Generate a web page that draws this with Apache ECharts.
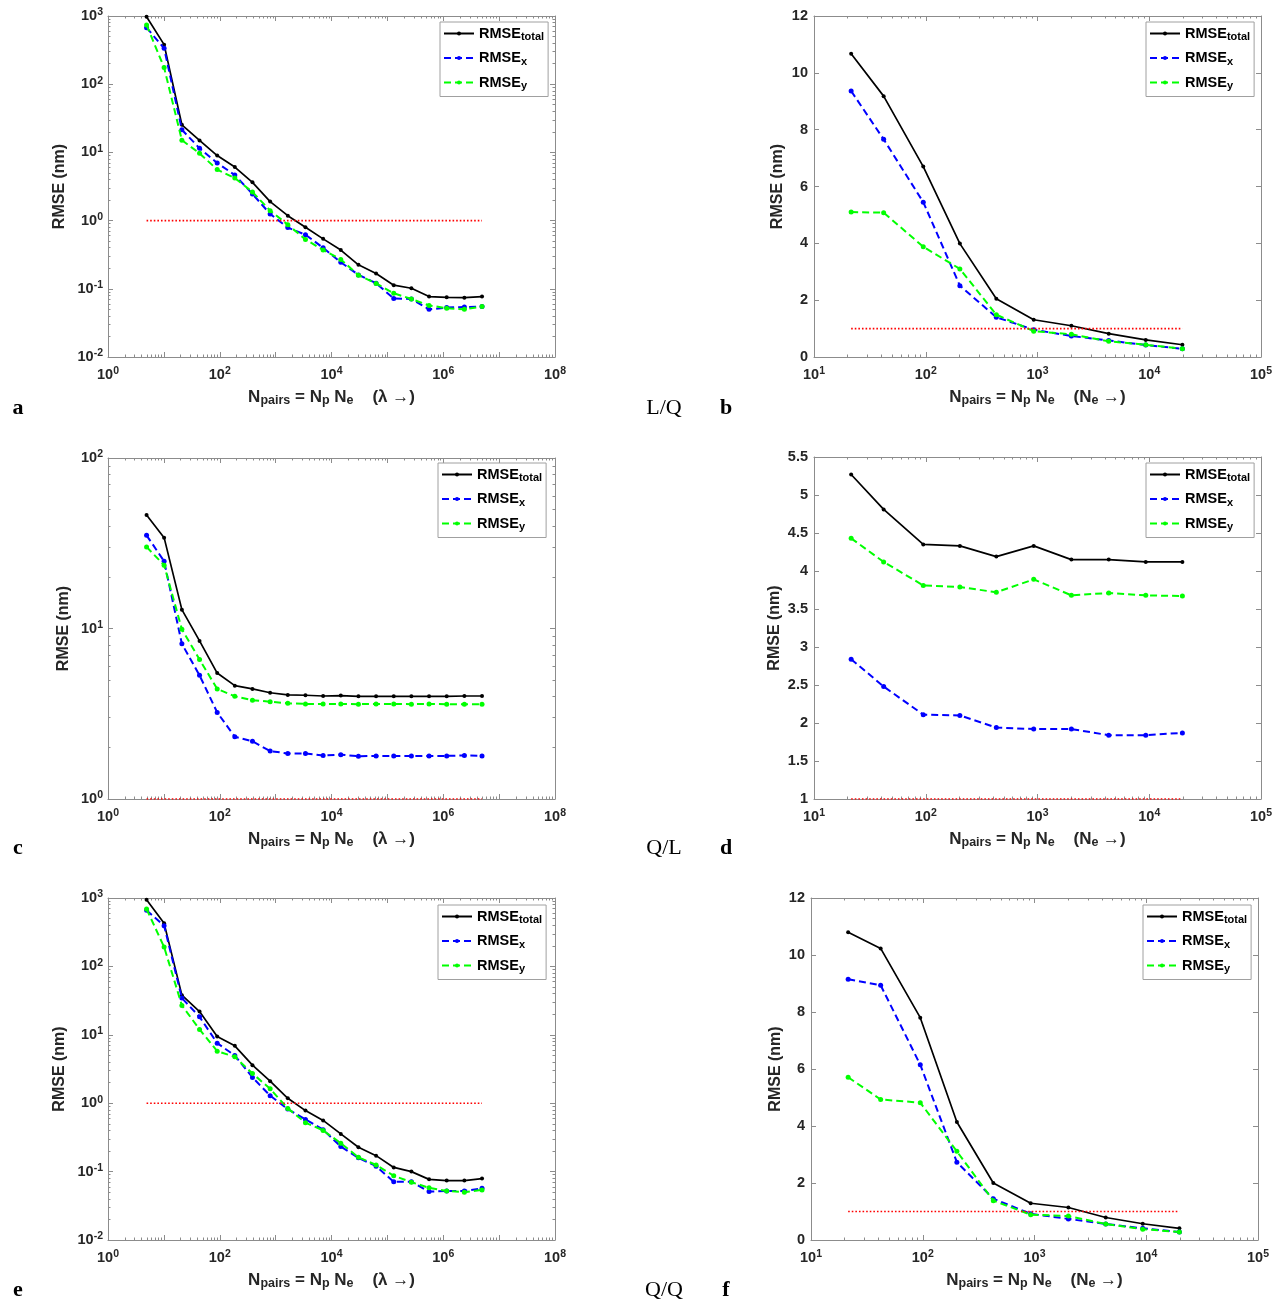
<!DOCTYPE html>
<html>
<head>
<meta charset="utf-8">
<script src="https://cdn.jsdelivr.net/npm/echarts@6/dist/echarts.min.js"></script>
<style>
  html, body { margin: 0; background: #fff; }
  #main { width: 1281px; height: 1307px; }
</style>
</head>
<body>
<div id="main"></div>
<script>
// x positions (N_pairs) for the lambda sweep (left column) and N_e sweep (right column)
const xLambda = [4.9, 10.1, 21, 43.5, 90, 186, 385, 798, 1652, 3420, 7080, 14660, 30340, 62800, 130000, 269000, 557000, 1153000, 2388000, 4943000];
const xNe = [21.5, 42, 95, 202, 428, 925, 2010, 4340, 9310, 19800];

// a  (L/Q, lambda sweep)
const aTotal = [977, 380, 25.4, 15, 9.0, 6.1, 3.64, 1.9, 1.18, 0.80, 0.54, 0.37, 0.225, 0.168, 0.113, 0.102, 0.077, 0.075, 0.074, 0.077];
const aX = [675, 336, 21.5, 11.5, 7.0, 4.66, 2.46, 1.25, 0.79, 0.62, 0.40, 0.245, 0.16, 0.121, 0.072, 0.071, 0.050, 0.053, 0.054, 0.055];
const aY = [738, 175, 15.1, 9.7, 5.6, 4.2, 2.63, 1.4, 0.87, 0.53, 0.37, 0.27, 0.158, 0.12, 0.086, 0.071, 0.057, 0.052, 0.050, 0.055];
// b  (L/Q, N_e sweep)
const bTotal = [10.67, 9.18, 6.70, 3.99, 2.05, 1.31, 1.10, 0.82, 0.60, 0.43];
const bX = [9.36, 7.66, 5.45, 2.51, 1.40, 0.96, 0.74, 0.58, 0.42, 0.29];
const bY = [5.10, 5.08, 3.88, 3.10, 1.49, 0.91, 0.80, 0.55, 0.43, 0.29];
// c  (Q/L, lambda sweep)
const cTotal = [46.3, 34.1, 12.9, 8.46, 5.48, 4.62, 4.42, 4.2, 4.08, 4.06, 4.02, 4.04, 4.0, 4.0, 4.0, 4.0, 4.0, 4.0, 4.02, 4.02];
const cX = [35.2, 24.8, 8.13, 5.31, 3.22, 2.32, 2.18, 1.91, 1.85, 1.85, 1.80, 1.82, 1.78, 1.79, 1.79, 1.79, 1.79, 1.79, 1.80, 1.79];
const cY = [30.1, 23.5, 9.9, 6.58, 4.42, 4.0, 3.80, 3.72, 3.64, 3.61, 3.61, 3.61, 3.60, 3.61, 3.61, 3.60, 3.61, 3.60, 3.60, 3.60];
// d  (Q/L, N_e sweep)
const dTotal = [5.27, 4.81, 4.35, 4.33, 4.19, 4.33, 4.15, 4.15, 4.12, 4.12];
const dX = [2.84, 2.48, 2.11, 2.10, 1.94, 1.92, 1.92, 1.84, 1.84, 1.87];
const dY = [4.43, 4.12, 3.81, 3.79, 3.72, 3.89, 3.68, 3.71, 3.68, 3.67];
// e  (Q/Q, lambda sweep)
const eTotal = [946, 426, 38, 21.9, 9.46, 6.9, 3.6, 2.1, 1.18, 0.78, 0.56, 0.356, 0.227, 0.171, 0.115, 0.10, 0.077, 0.074, 0.074, 0.079];
const eX = [660, 394, 34.4, 18.3, 7.55, 4.99, 2.38, 1.29, 0.82, 0.58, 0.41, 0.232, 0.159, 0.12, 0.071, 0.071, 0.051, 0.052, 0.052, 0.057];
const eY = [690, 192, 26.9, 12.0, 5.77, 4.76, 2.72, 1.62, 0.84, 0.52, 0.40, 0.26, 0.162, 0.125, 0.087, 0.070, 0.058, 0.052, 0.050, 0.054];
// f  (Q/Q, N_e sweep)
const fTotal = [10.80, 10.23, 7.80, 4.14, 2.0, 1.29, 1.14, 0.79, 0.57, 0.41];
const fX = [9.15, 8.94, 6.15, 2.73, 1.45, 0.92, 0.74, 0.56, 0.41, 0.28];
const fY = [5.71, 4.93, 4.82, 3.11, 1.38, 0.89, 0.84, 0.56, 0.38, 0.28];

const refLevel = 1; // 1 nm reference line
const seriesNames = ['RMSE_total', 'RMSE_x', 'RMSE_y'];
const panelLetters = ['a', 'b', 'c', 'd', 'e', 'f'];
const rowTags = ['L/Q', 'Q/L', 'Q/Q'];

const FONT = '"Liberation Sans", Arial, Helvetica, sans-serif';
const SERIF = '"Liberation Serif", "Times New Roman", serif';
const AX = '#8c8c8c';
const TXT = '#262626';

var chart = echarts.init(document.getElementById('main'));

// per-panel layout
const panels = [
  { xs: xLambda, d: [aTotal, aX, aY], grid: { left: 108, top: 16, width: 447, height: 341 }, xr: [1, 1e8], y: { type: 'log', min: 0.01, max: 1000 }, leg: [440, 22], nameGap: 40, lam: true },
  { xs: xNe, d: [bTotal, bX, bY], grid: { left: 814, top: 16, width: 447, height: 341 }, xr: [10, 1e5], y: { type: 'value', min: 0, max: 12, interval: 2 }, leg: [1146, 22], nameGap: 28, lam: false },
  { xs: xLambda, d: [cTotal, cX, cY], grid: { left: 108, top: 458, width: 447, height: 341 }, xr: [1, 1e8], y: { type: 'log', min: 1, max: 100 }, leg: [438, 463], nameGap: 36, lam: true },
  { xs: xNe, d: [dTotal, dX, dY], grid: { left: 814, top: 457, width: 447, height: 342 }, xr: [10, 1e5], y: { type: 'value', min: 1, max: 5.5, interval: 0.5 }, leg: [1146, 463], nameGap: 31, lam: false },
  { xs: xLambda, d: [eTotal, eX, eY], grid: { left: 108, top: 898, width: 447, height: 342 }, xr: [1, 1e8], y: { type: 'log', min: 0.01, max: 1000 }, leg: [438, 905], nameGap: 40, lam: true },
  { xs: xNe, d: [fTotal, fX, fY], grid: { left: 811, top: 898, width: 447, height: 342 }, xr: [10, 1e5], y: { type: 'value', min: 0, max: 12, interval: 2 }, leg: [1143, 905], nameGap: 27, lam: false }
];

const supRich = {
  b: { fontSize: 14.5, fontWeight: 'bold', color: TXT, fontFamily: FONT, lineHeight: 18 },
  s: { fontSize: 10.5, fontWeight: 'bold', color: TXT, fontFamily: FONT, lineHeight: 6, verticalAlign: 'top' }
};
const subRich = {
  b: { fontSize: 17, fontWeight: 'bold', color: TXT, fontFamily: FONT, lineHeight: 20 },
  s: { fontSize: 12.5, fontWeight: 'bold', color: TXT, fontFamily: FONT, lineHeight: 4, verticalAlign: 'bottom' }
};

function logLabel(evenOnly) {
  return function (v) {
    var e = Math.round(Math.log10(v));
    if (evenOnly && e % 2 !== 0) return '';
    return '{b|10}{s|' + e + '}';
  };
}

var grids = [], xAxes = [], yAxes = [], series = [], legends = [], graphics = [];

panels.forEach(function (p, i) {
  grids.push(p.grid);
  var xBase = {
    type: 'log', logBase: 10, min: p.xr[0], max: p.xr[1], interval: 1, gridIndex: i,
    axisLine: { onZero: false, lineStyle: { color: AX, width: 1 } },
    axisTick: { inside: true, length: 5, lineStyle: { color: AX } },
    minorTick: { show: true, splitNumber: 9, length: 2.5, lineStyle: { color: AX } },
    splitLine: { show: false }
  };
  xAxes.push(Object.assign({}, xBase, {
    position: 'bottom',
    axisLabel: { margin: 9, formatter: logLabel(p.lam), rich: supRich },
    name: p.lam
      ? '{b|N}{s|pairs}{b| = N}{s|p}{b| N}{s|e}{b|    (λ →)}'
      : '{b|N}{s|pairs}{b| = N}{s|p}{b| N}{s|e}{b|    (N}{s|e}{b| →)}',
    nameLocation: 'middle', nameGap: 30,
    nameTextStyle: { rich: subRich }
  }));
  xAxes.push(Object.assign({}, xBase, { position: 'top', axisLabel: { show: false } }));

  var yBase = Object.assign({}, p.y, {
    gridIndex: i,
    axisLine: { onZero: false, lineStyle: { color: AX, width: 1 } },
    axisTick: { inside: true, length: 5, lineStyle: { color: AX } },
    splitLine: { show: false }
  });
  if (p.y.type === 'log') {
    yBase.logBase = 10;
    yBase.interval = 1;
    yBase.minorTick = { show: true, splitNumber: 9, length: 2.5, lineStyle: { color: AX } };
  }
  yAxes.push(Object.assign({}, yBase, {
    position: 'left',
    axisLabel: p.y.type === 'log'
      ? { margin: 5, formatter: logLabel(false), rich: supRich }
      : { margin: 6, fontSize: 14.5, fontWeight: 'bold', color: TXT, fontFamily: FONT },
    name: 'RMSE (nm)', nameLocation: 'middle', nameGap: p.nameGap,
    nameTextStyle: { fontSize: 16, fontWeight: 'bold', color: TXT, fontFamily: FONT }
  }));
  yAxes.push(Object.assign({}, yBase, { position: 'right', axisLabel: { show: false } }));

  var styles = [
    { color: '#000000', width: 1.7, type: 'solid', size: 4 },
    { color: '#0000ff', width: 2, type: [7, 4], size: 5 },
    { color: '#00ff00', width: 2, type: [7, 4], size: 5 }
  ];
  styles.forEach(function (st, k) {
    series.push({
      name: seriesNames[k], type: 'line', xAxisIndex: 2 * i, yAxisIndex: 2 * i,
      data: p.xs.map(function (x, j) { return [x, p.d[k][j]]; }),
      symbol: 'circle', symbolSize: st.size, showSymbol: true,
      itemStyle: { color: st.color },
      lineStyle: { color: st.color, width: st.width, type: st.type },
      animation: false, z: 3 + k
    });
  });
  series.push({
    name: 'ref', type: 'line', xAxisIndex: 2 * i, yAxisIndex: 2 * i,
    data: [[p.xs[0], refLevel], [p.xs[p.xs.length - 1], refLevel]],
    symbol: 'none', lineStyle: { color: '#ff0000', width: 1.6, type: [1.6, 2] },
    animation: false, z: 6
  });

  legends.push({
    data: seriesNames, left: p.leg[0], top: p.leg[1], orient: 'vertical',
    itemWidth: 30, itemHeight: 5, itemGap: 8, padding: [4, 4, 5, 3],
    borderColor: '#a0a0a0', borderWidth: 1, backgroundColor: '#fff',
    selectedMode: false,
    formatter: function (n) { return '{m|RMSE}{s|' + n.split('_')[1] + '}'; },
    textStyle: {
      rich: {
        m: { fontSize: 14.5, fontWeight: 'bold', color: '#000', fontFamily: FONT, lineHeight: 18 },
        s: { fontSize: 11, fontWeight: 'bold', color: '#000', fontFamily: FONT, lineHeight: 3, verticalAlign: 'bottom' }
      }
    }
  });
});

// panel letters and row tags
var letterPos = [[18, 408], [726, 408], [18, 848], [726, 848], [18, 1290], [726, 1290]];
panelLetters.forEach(function (l, i) {
  graphics.push({ type: 'text', style: { text: l, x: letterPos[i][0], y: letterPos[i][1], font: 'bold 22px ' + SERIF, fill: '#000', align: 'center', verticalAlign: 'middle' } });
});
var tagY = [408, 848, 1290];
rowTags.forEach(function (t, i) {
  graphics.push({ type: 'text', style: { text: t, x: 664, y: tagY[i], font: '22px ' + SERIF, fill: '#000', align: 'center', verticalAlign: 'middle' } });
});

var option = {
  backgroundColor: '#fff',
  animation: false,
  grid: grids,
  xAxis: xAxes,
  yAxis: yAxes,
  legend: legends,
  series: series,
  graphic: graphics
};
chart.setOption(option);
</script>
</body>
</html>
